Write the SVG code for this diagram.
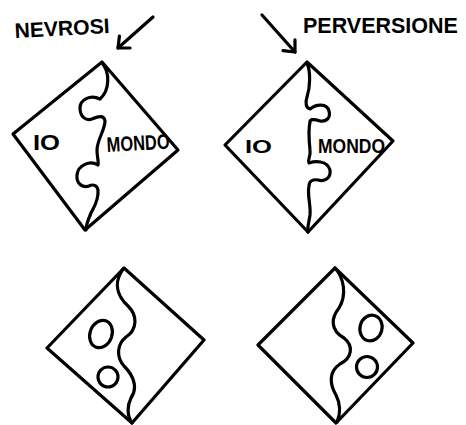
<svg xmlns="http://www.w3.org/2000/svg" width="466" height="425" viewBox="0 0 466 425">
<defs>
<style>
.shape{fill:none;stroke:#000;stroke-width:3.2;stroke-linejoin:round;stroke-linecap:round}
.lbl{font-family:"Liberation Sans",Arial,sans-serif;font-weight:bold;fill:#000}
</style>
<marker id="ah" markerUnits="userSpaceOnUse" markerWidth="24" markerHeight="24" refX="0" refY="0" viewBox="-12 -12 24 24" orient="auto" overflow="visible">
<path d="M-9,-8 L0,0 L-9,8" fill="none" stroke="#000" stroke-width="3.2" stroke-linecap="round" stroke-linejoin="round"/>
</marker>
</defs>
<rect width="466" height="425" fill="#fff"/>

<g id="label-nevrosi">
<text class="lbl" x="15" y="38" font-size="21" textLength="95" lengthAdjust="spacingAndGlyphs" transform="rotate(-3 15 38)">NEVROSI</text>
</g>
<g id="label-perversione">
<text class="lbl" x="303" y="33" font-size="21.5">PERVERSIONE</text>
</g>

<g id="nevrosi-diamond">
<polygon class="shape" points="102,62 178,150 85,230 13,134"/>
<path class="shape" d="M102,63 C110,72 110,90 100,99 C90,94 80,100 80,108 C80,117 86,121 92,119 C97,117 104,114 105,121 C105,130 97,140 97,150 C97,158 99,162 98,165 C90,160 78,165 77,175 C76,184 83,188 89,186 C93,184 97,185 98,190 C99,200 94,207 91,213 C88,220 86,225 86,230"/>
<text class="lbl" x="33" y="150" font-size="22" textLength="27" lengthAdjust="spacingAndGlyphs">IO</text>
<text class="lbl" x="107" y="152" font-size="21" textLength="63" lengthAdjust="spacingAndGlyphs" transform="rotate(-3 107 152)">MONDO</text>
</g>

<g id="perversione-diamond">
<polygon class="shape" points="307,62 393,141 308,232 225,145"/>
<path class="shape" d="M307,63 C311,72 310,88 307,97 C305,103 306,108 310,109 C316,104 327,103 329,111 C331,118 326,122 320,121 C314,119 310,119 310,122 C308,130 309,140 310,150 C311,157 307,160 309,163 C315,161 327,160 330,170 C331,178 325,182 318,180 C313,179 309,181 309,186 C307,195 311,205 310,215 C309,222 307,228 308,232"/>
<text class="lbl" x="245" y="153" font-size="19" textLength="27" lengthAdjust="spacingAndGlyphs">IO</text>
<text class="lbl" x="318" y="153" font-size="21" textLength="67" lengthAdjust="spacingAndGlyphs">MONDO</text>
</g>

<g id="nevrosi-outcome">
<polygon class="shape" points="124,268 204,340 132,423 47,348"/>
<path class="shape" d="M123,269 C114,282 116,295 128,306 C138,316 137,330 126,337 C117,344 116,357 124,366 C134,376 138,388 131,398 C127,406 127,416 132,423"/>
<ellipse class="shape" cx="101" cy="334" rx="11" ry="14" transform="rotate(20 101 334)"/>
<ellipse class="shape" cx="108" cy="377" rx="10" ry="10"/>
</g>

<g id="perversione-outcome">
<polygon class="shape" points="335,268 413,343 336,423 258,345"/>
<path class="shape" d="M335,268 C344,278 347,295 339,308 C331,318 330,330 344,338 C354,346 352,358 340,364 C328,372 330,385 336,395 C341,405 340,415 337,422"/>
<ellipse class="shape" cx="371" cy="328" rx="11" ry="13" transform="rotate(15 371 328)"/>
<ellipse class="shape" cx="367" cy="367" rx="10.5" ry="10.5"/>
</g>

<g id="connectors">
<line class="shape" x1="153" y1="17" x2="118" y2="48" marker-end="url(#ah)"/>
<line class="shape" x1="262" y1="15" x2="295" y2="52" marker-end="url(#ah)"/>
</g>
</svg>
